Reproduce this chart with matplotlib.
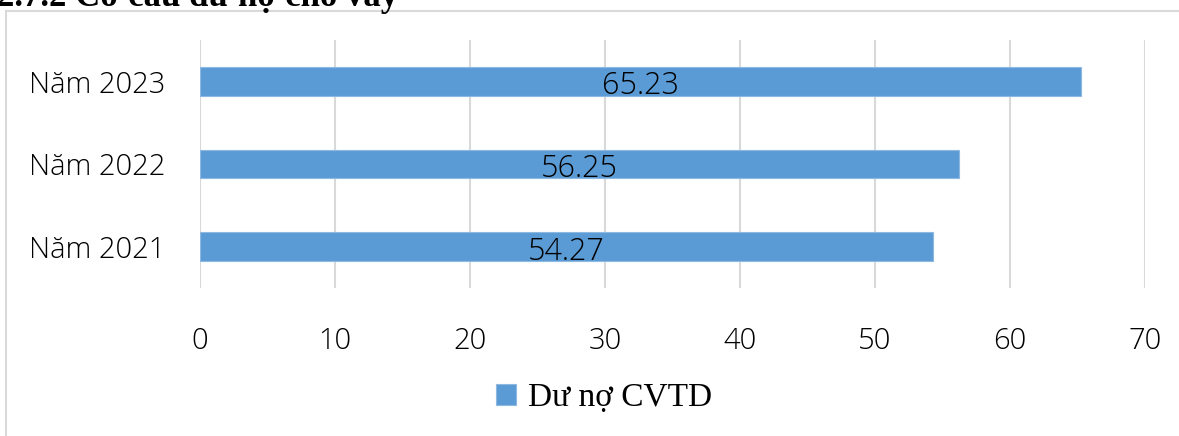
import matplotlib.pyplot as plt
from matplotlib.patches import Rectangle

# Dư nợ cho vay tiêu dùng theo năm
years = ["Năm 2021", "Năm 2022", "Năm 2023"]
du_no = [54.27, 56.25, 65.23]
x_ticks = [0, 10, 20, 30, 40, 50, 60, 70]

BAR_COLOR = "#5B9BD5"
GRID_COLOR = "#D9D9D9"
SANS = ["Open Sans", "DejaVu Sans"]
SERIF = ["Liberation Serif", "DejaVu Serif"]

W, H = 1179, 436
fig = plt.figure(figsize=(W / 100, H / 100), dpi=100)

# khung viền của biểu đồ
fig.patches.append(Rectangle((6 / W, -0.1), 1.2, 1 - 11 / H + 0.1,
                             transform=fig.transFigure, fill=False,
                             edgecolor=GRID_COLOR, linewidth=1.5))

# tiêu đề mục (bị cắt ở mép trên)
fig.text(-3 / W, 1 - 6 / H, "2.7.2 Cơ cấu dư nợ cho vay", family=SERIF,
         fontweight="bold", fontsize=25, ha="left", va="baseline")

ax = fig.add_axes([200 / W, 1 - 288 / H, 945 / W, 248 / H])
bars = ax.barh(range(len(years)), du_no, height=0.35, color=BAR_COLOR,
               edgecolor="#8DB8E2", linewidth=0.8, zorder=3,
               label="Dư nợ CVTD")

for b, v in zip(bars, du_no):
    ax.text(b.get_width() / 2, b.get_y() + b.get_height() / 2 - 0.06, f"{v:.2f}",
            ha="center", va="center", fontsize=22, family=SANS,
            fontweight="light", color="black", zorder=4)

ax.set_xlim(0, 70)
ax.set_ylim(-0.5, 2.5)
ax.set_xticks(x_ticks)
ax.set_yticks(range(len(years)))
ax.set_yticklabels(years)
for lbl in ax.get_xticklabels() + ax.get_yticklabels():
    lbl.set_family(SANS)
    lbl.set_fontsize(21)
    lbl.set_fontweight("light")
ax.tick_params(axis="x", length=0, pad=28)
ax.tick_params(axis="y", length=0, pad=25)
ax.grid(axis="x", color=GRID_COLOR, linewidth=1.5, zorder=0)
for s in ax.spines.values():
    s.set_visible(False)

leg = fig.legend(handles=[bars], loc="center", bbox_to_anchor=(604 / W, 1 - 398 / H),
                 frameon=False, prop={"family": SERIF, "size": 24},
                 handlelength=0.6, handleheight=0.6, handletextpad=0.35)

fig.savefig("out.png", dpi=100)
